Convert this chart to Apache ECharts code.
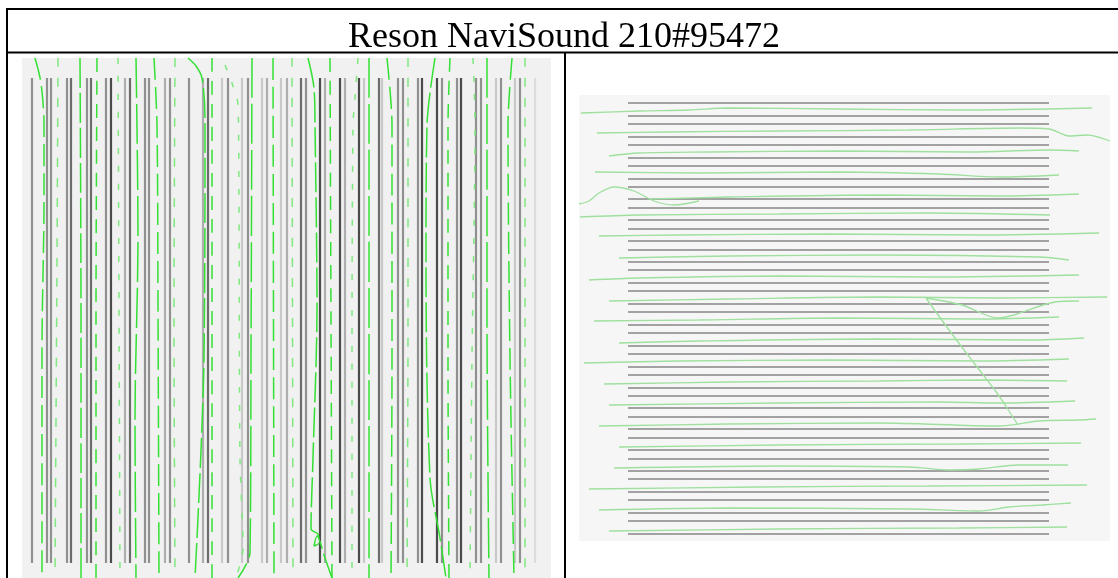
<!DOCTYPE html>
<html><head><meta charset="utf-8">
<script src="https://cdn.jsdelivr.net/npm/echarts@6/dist/echarts.min.js"></script>
<style>html,body{margin:0;padding:0;background:#fff}#c{width:1118px;height:578px}</style>
</head><body><div id="c"></div>
<script>
const titleText = 'Reson NaviSound 210#95472';

// ---- Left panel: north-south survey lines (easting in panel units) ----
const leftLineX = [9.7,25,29,44.7,49,64.3,69,83.7,88.7,103,108,122.7,127,143,147.3,166.7,180.3,185.7,199.7,205.7,219.7,225.3,239.7,244.7,259,264.7,278.7,284,298,303,317.7,322.7,336.7,342,356.3,359.7,375.7,380.3,395.7,399.7,415,419.7,434.7,439,453.7,458.3,473.7,478.3,493,497.7,512.3];
// plotted tone of each line: 1 darkest .. 6 faintest
const leftLineTone = [3,3,3,3,2,3,2,3,1,4,2,3,3,4,3,3,4,2,5,3,5,3,5,4,5,4,2,3,1,4,1,4,1,5,2,5,3,3,3,1,1,3,3,1,3,3,5,3,5,3,6];
const leftLineNorth = 20, leftLineSouth = 505;

// sailed tracks, left panel: [easting, northing-from-top]
const leftTracks = [
  [[13,0],[19,25],[22,67],[22,142],[20,292],[20,520]],
  [[36,0],[35,200],[33,520]],
  [[58,0],[59,260],[59,520]],
  [[75,0],[74,260],[74,520]],
  [[96,0],[97,250],[98,520]],
  [[114,0],[116,180],[113,360],[114,520]],
  [[132,0],[135,67],[136,250],[137,520]],
  [[153,0],[152,260],[153,520]],
  [[166,0],[174,8],[180,20],[183,60],[182,300],[173,520]],
  [[190,0],[190,520]],
  [[203,7],[210,25],[216,47],[217,150],[218,400],[221,490],[214,520]],
  [[230,0],[229,300],[228,495],[216,520]],
  [[251,0],[252,520]],
  [[270,0],[271,520]],
  [[286,0],[292,30],[293,67],[295,250],[291,400],[289,471],[296,476],[297,485],[292,488],[295,478],[303,500],[310,520]],
  [[308,0],[309,260],[310,520]],
  [[336,0],[333,40],[331,67],[330,300],[330,520]],
  [[347,0],[347,520]],
  [[365,0],[370,67],[370,300],[369,520]],
  [[386,0],[386,260],[385,520]],
  [[413,0],[405,67],[404,200],[408,420],[418,480],[424,520]],
  [[428,0],[426,67],[426,300],[427,520]],
  [[451,0],[453,67],[450,300],[448,520]],
  [[465,0],[465,260],[467,520]],
  [[490,0],[486,67],[488,300],[492,520]],
  [[503,0],[503,520]]
];

// ---- Right panel: east-west survey lines (northing from top, panel units) ----
const rightLineY = [8.0,20.6,28.9,41.5,49.8,62.4,70.7,83.3,91.6,104.2,112.5,125.1,133.4,146.0,154.3,166.9,175.2,187.8,196.1,208.7,217.0,229.6,237.9,250.5,258.8,271.4,279.7,292.3,300.6,313.2,321.5,334.1,342.4,355.0,363.3,375.9,384.2,396.8,405.1,417.7,426.0,438.6];
const rightLineWest = 49, rightLineEast = 470;

const rightTracks = [
  [[2,18],[60,16],[110,15],[150,13],[260,14],[380,15],[513,13]],
  [[18,38],[90,37],[200,36],[330,35],[440,33],[470,34],[490,41],[508,40],[531,46]],
  [[30,61],[60,58],[130,57],[260,56],[390,57],[470,55],[500,56]],
  [[16,77],[120,78],[260,77],[360,79],[420,82],[480,80]],
  [[0,109],[10,106],[20,98],[35,92],[55,96],[75,106],[95,110],[120,106]],
  [[70,104],[150,102],[300,100],[420,101],[500,99]],
  [[1,122],[60,120],[200,119],[350,118],[471,120]],
  [[20,141],[100,140],[250,139],[400,140],[520,138]],
  [[40,163],[150,161],[300,160],[460,162],[490,165]],
  [[10,185],[60,183],[200,181],[350,182],[500,180]],
  [[30,206],[150,204],[300,202],[420,203],[528,202]],
  [[347,203],[383,210],[419,223],[435,220],[476,207],[500,206]],
  [[347,203],[370,235],[395,268],[418,298],[430,316],[439,330]],
  [[15,226],[120,225],[260,223],[400,224],[480,222]],
  [[40,248],[120,246],[300,244],[450,245],[505,243]],
  [[5,268],[100,266],[250,265],[400,266],[490,264]],
  [[25,289],[150,287],[300,286],[404,285],[488,286]],
  [[30,310],[200,308],[360,307],[420,308],[496,306]],
  [[20,331],[150,329],[300,328],[420,331],[460,326],[500,325],[517,324]],
  [[40,352],[200,350],[380,349],[502,348]],
  [[35,373],[200,371],[330,372],[370,375],[400,374],[440,370],[489,370]],
  [[10,394],[180,392],[350,391],[508,390]],
  [[20,415],[150,413],[330,414],[400,416],[430,412],[463,410],[492,408]],
  [[30,436],[200,434],[380,433],[488,432]]
];

const toneColor = {1:'#4a4a4a',2:'#6c6c6c',3:'#909090',4:'#aeaeae',5:'#c8c8c8',6:'#dcdcdc'};
const dashes = [[22,7],[9,11],[30,5],[14,9],[6,12],[40,6]];

const series = [];
series.push({
  type:'lines', coordinateSystem:'cartesian2d', xAxisIndex:0, yAxisIndex:0, silent:true, z:2,
  data: leftLineX.map((x,i)=>({coords:[[x,leftLineNorth],[x,leftLineSouth]], lineStyle:{color:toneColor[leftLineTone[i]], width:2.2, opacity:1}})),
  lineStyle:{width:2.2, opacity:1}
});
leftTracks.forEach((t,i)=>series.push({
  type:'line', xAxisIndex:0, yAxisIndex:0, data:t, smooth:0.3, showSymbol:false, silent:true, z:3,
  lineStyle:{color: i%3===1 ? '#7fe87f' : '#33e033', width:1.5, type:dashes[i%dashes.length]}
}));
series.push({
  type:'lines', coordinateSystem:'cartesian2d', xAxisIndex:1, yAxisIndex:1, silent:true, z:2,
  data: rightLineY.map(y=>({coords:[[rightLineWest,y],[rightLineEast,y]], lineStyle:{width:2.2, color:'#a2a2a2', opacity:1}})),
  lineStyle:{width:2.2, color:'#a2a2a2', opacity:1}
});
rightTracks.forEach(t=>series.push({
  type:'line', xAxisIndex:1, yAxisIndex:1, data:t, smooth:0.3, showSymbol:false, silent:true, z:3,
  lineStyle:{color:'#9fe09f', width:1.3}
}));

const chart = echarts.init(document.getElementById('c'), null, {renderer:'canvas'});
chart.setOption({
  animation:false,
  backgroundColor:'#ffffff',
  grid:[
    {left:22, top:58, width:529, height:520, show:true, backgroundColor:'#f1f1f1', borderWidth:0},
    {left:579, top:95, width:531, height:446, show:true, backgroundColor:'#f6f6f6', borderWidth:0}
  ],
  xAxis:[
    {type:'value', gridIndex:0, min:0, max:529, show:false},
    {type:'value', gridIndex:1, min:0, max:531, show:false}
  ],
  yAxis:[
    {type:'value', gridIndex:0, min:0, max:520, inverse:true, show:false},
    {type:'value', gridIndex:1, min:0, max:446, inverse:true, show:false}
  ],
  graphic:[
    {type:'line', shape:{x1:6,y1:9,x2:1118,y2:9}, style:{stroke:'#000',lineWidth:2}, z:10},
    {type:'line', shape:{x1:7,y1:8,x2:7,y2:578}, style:{stroke:'#000',lineWidth:2}, z:10},
    {type:'line', shape:{x1:6,y1:52.5,x2:1118,y2:52.5}, style:{stroke:'#000',lineWidth:2}, z:10},
    {type:'line', shape:{x1:565,y1:52,x2:565,y2:578}, style:{stroke:'#000',lineWidth:2}, z:10},
    {type:'text', x:564, y:38, z:10, style:{text:titleText, font:'36px "Liberation Serif"', fill:'#000',
      align:'center', textAlign:'center', verticalAlign:'middle', textVerticalAlign:'middle'}}
  ],
  series
});
</script></body></html>
